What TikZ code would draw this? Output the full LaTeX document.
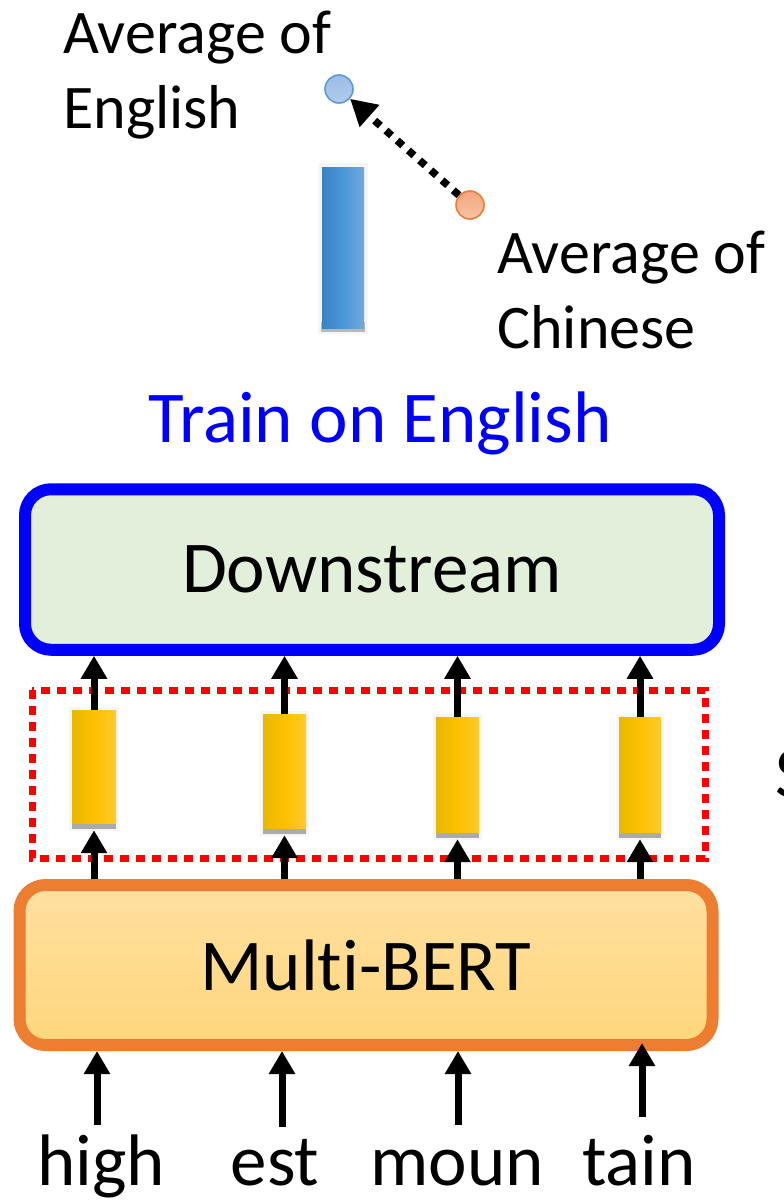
\documentclass[tikz,border=0pt]{standalone}
\usepackage{fontspec}
\setmainfont{Carlito}[Ligatures=NoCommon]
\usetikzlibrary{arrows.meta}

\definecolor{dsfill}{HTML}{E2EFDA}
\definecolor{bertline}{HTML}{ED7D31}
\definecolor{berttop}{HTML}{FFE0A0}
\definecolor{bertbot}{HTML}{FFD67C}
\definecolor{ylL}{HTML}{E6B800}
\definecolor{ylM}{HTML}{FFC000}
\definecolor{ylR}{HTML}{FFCA2C}
\definecolor{blL}{HTML}{3A82C4}
\definecolor{blM}{HTML}{4A97DA}
\definecolor{blR}{HTML}{73A9DB}
\definecolor{enTop}{HTML}{9CBCE6}
\definecolor{enBot}{HTML}{B2CCEC}
\definecolor{enLine}{HTML}{5B9BD5}
\definecolor{zhTop}{HTML}{F3A57E}
\definecolor{zhBot}{HTML}{F7C3A6}

\begin{document}
\begin{tikzpicture}[x=1pt,y=-1pt,
  big/.style={inner sep=0pt, anchor=base, font=\fontsize{73}{88}\selectfont},
  small/.style={inner sep=0pt, anchor=base west, font=\fontsize{62}{75}\selectfont},
  arr/.style={line width=7pt, -{Triangle[width=25pt,length=23pt]}},
  dotarr/.style={line width=7.5pt, dash pattern=on 7.5pt off 7.5pt, -{Triangle[width=28pt,length=26pt]}},
  ybar/.style={inner sep=0pt, left color=ylL, right color=ylR, middle color=ylM},
  layerbox/.style={rounded corners=26pt, line width=12pt, inner sep=0pt,
                   font=\fontsize{73}{88}\selectfont},
  avgdot/.style={circle, minimum size=28pt, inner sep=0pt, line width=1.6pt},
]
\clip (0,0) rectangle (784,1202);
\fill[white] (0,0) rectangle (784,1202);

% --- sentence embedding bar with averages ---
\fill[black,opacity=0.035] (318,163) rectangle (368,334);
\fill[black,opacity=0.25] (321,322) rectangle (365,332);
\node[inner sep=0pt, minimum width=42pt, minimum height=161pt,
      left color=blL, right color=blR, middle color=blM] (enbar) at (343,247.5) {};

\node[avgdot, draw=enLine, top color=enTop, bottom color=enBot] (cEn) at (339,89) {};
\node[avgdot, draw=bertline, top color=zhTop, bottom color=zhBot] (cZh) at (470,205) {};
\draw[dotarr] (cZh) -- (cEn);

\node[small] (avgEn1) at (63,53) {Average of};
\node[small] (avgEn2) at (63,128) {English};
\node[small] (avgZh1) at (497,273) {Average of};
\node[small] (avgZh2) at (497,348) {Chinese};

% --- title ---
\node[big, text=blue] (train) at (380,442) {Train on English};

% --- downstream model ---
\node[layerbox, draw=blue, fill=dsfill, minimum width=694pt, minimum height=160.5pt]
  (down) at (372,569.5) {Downstream};

% --- Multi-BERT encoder ---
\node[layerbox, draw=bertline, top color=berttop, bottom color=bertbot,
      minimum width=693pt, minimum height=160pt]
  (bert) at (366,965) {Multi-BERT};

% --- selected hidden layer ---
\draw[red, line width=7pt, dash pattern=on 9pt off 7pt] (32,690) rectangle (705,858);
\node[big, anchor=base west] (sideS) at (775,797) {S};

% --- token vectors ---
\foreach \i/\x/\yt/\yb/\w in {1/94/710/823/44, 2/284.5/714/828/43, 3/457.5/717/832/43, 4/640/717/832/42}{
  \fill[black,opacity=0.035] (\x-\w/2-3,\yt-3) rectangle (\x+\w/2+3,\yb+8);
  \fill[black,opacity=0.3] (\x-\w/2,\yb-2) rectangle (\x+\w/2,\yb+6);
  \node[ybar, minimum width=\w pt, minimum height={\yb-\yt}] (y\i) at (\x,{(\yt+\yb)/2}) {};
  \draw[arr] (y\i.north) -- (y\i.north |- down.south);
  \draw[arr] (y\i.south |- bert.north) -- ([yshift=-7pt]y\i.south);
}

% --- input tokens ---
\node[big] (w1) at (101,1185) {high};
\node[big] (w2) at (275,1185) {est};
\node[big] (w3) at (457,1185) {moun};
\node[big] (w4) at (639,1185) {tain};

\coordinate (b1) at (97,1125);
\coordinate (b2) at (282,1127);
\coordinate (b3) at (458,1125);
\coordinate (b4) at (642,1117);
\draw[arr] (b1) -- (b1 |- bert.south);
\draw[arr] (b2) -- (b2 |- bert.south);
\draw[arr] (b3) -- (b3 |- bert.south);
\draw[arr] (b4) -- ([yshift=8pt]b4 |- bert.south);
\end{tikzpicture}
\end{document}
